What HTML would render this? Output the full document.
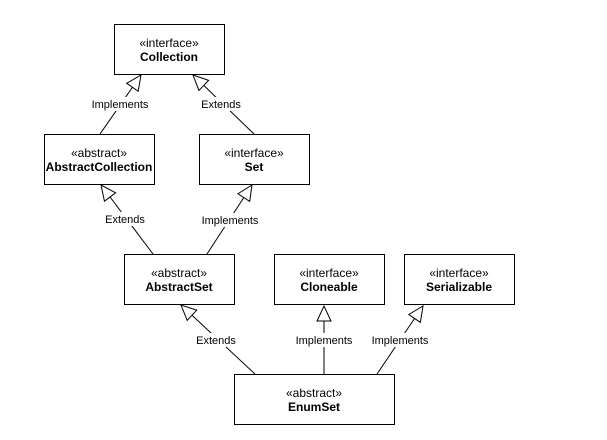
<!DOCTYPE html>
<html><head><meta charset="utf-8"><style>
html,body{margin:0;padding:0;background:#fff;}
svg{display:block;}
text{font-family:"Liberation Sans",sans-serif;fill:#000;}
.s{font-size:12px;}
.b{font-size:12px;font-weight:bold;}
.l{font-size:11px;}
</style></head><body>
<svg width="607" height="440" viewBox="0 0 607 440" xmlns="http://www.w3.org/2000/svg">
<defs>
<marker id="t" markerWidth="18" markerHeight="16" refX="16" refY="8" orient="auto" markerUnits="userSpaceOnUse">
<path d="M1,1 L16,8 L1,15 Z" fill="#fff" stroke="#000" stroke-width="1"/>
</marker>
</defs>
<g stroke="#000" stroke-width="1" fill="none">
<line x1="100" y1="134" x2="141" y2="75" marker-end="url(#t)"/>
<line x1="254" y1="134" x2="193" y2="75" marker-end="url(#t)"/>
<line x1="153" y1="254" x2="101" y2="185" marker-end="url(#t)"/>
<line x1="207" y1="254" x2="252" y2="185" marker-end="url(#t)"/>
<line x1="255" y1="374" x2="181" y2="305" marker-end="url(#t)"/>
<line x1="324" y1="374" x2="324" y2="306" marker-end="url(#t)"/>
<line x1="377" y1="374" x2="423" y2="306" marker-end="url(#t)"/>
</g>
<g fill="#fff" stroke="#000" stroke-width="1">
<rect x="114.5" y="24.5" width="110" height="50"/>
<rect x="44.5" y="134.5" width="110" height="50"/>
<rect x="199.5" y="134.5" width="110" height="50"/>
<rect x="124.5" y="254.5" width="110" height="50"/>
<rect x="274.5" y="254.5" width="110" height="50"/>
<rect x="404.5" y="254.5" width="110" height="50"/>
<rect x="234.5" y="374.5" width="160" height="50"/>
</g>
<g fill="#fff">
<rect x="91" y="97" width="59" height="14"/>
<rect x="201" y="97" width="41" height="14"/>
<rect x="104" y="212" width="42" height="14"/>
<rect x="201" y="213" width="59" height="14"/>
<rect x="196" y="333" width="41" height="14"/>
<rect x="295" y="333" width="59" height="14"/>
<rect x="371" y="333" width="59" height="14"/>
</g>
<g text-anchor="middle">
<text class="s" x="169" y="47">«interface»</text><text class="b" x="169" y="61">Collection</text>
<text class="s" x="99" y="157">«abstract»</text><text class="b" x="99" y="171">AbstractCollection</text>
<text class="s" x="254" y="157">«interface»</text><text class="b" x="254" y="171">Set</text>
<text class="s" x="179" y="277">«abstract»</text><text class="b" x="179" y="291">AbstractSet</text>
<text class="s" x="329" y="277">«interface»</text><text class="b" x="329" y="291">Cloneable</text>
<text class="s" x="459" y="277">«interface»</text><text class="b" x="459" y="291">Serializable</text>
<text class="s" x="314" y="397">«abstract»</text><text class="b" x="314" y="411">EnumSet</text>
<text class="l" x="120" y="108">Implements</text>
<text class="l" x="221" y="108">Extends</text>
<text class="l" x="125" y="223">Extends</text>
<text class="l" x="230" y="224">Implements</text>
<text class="l" x="216" y="344">Extends</text>
<text class="l" x="324" y="344">Implements</text>
<text class="l" x="400" y="344">Implements</text>
</g>
</svg>
</body></html>
